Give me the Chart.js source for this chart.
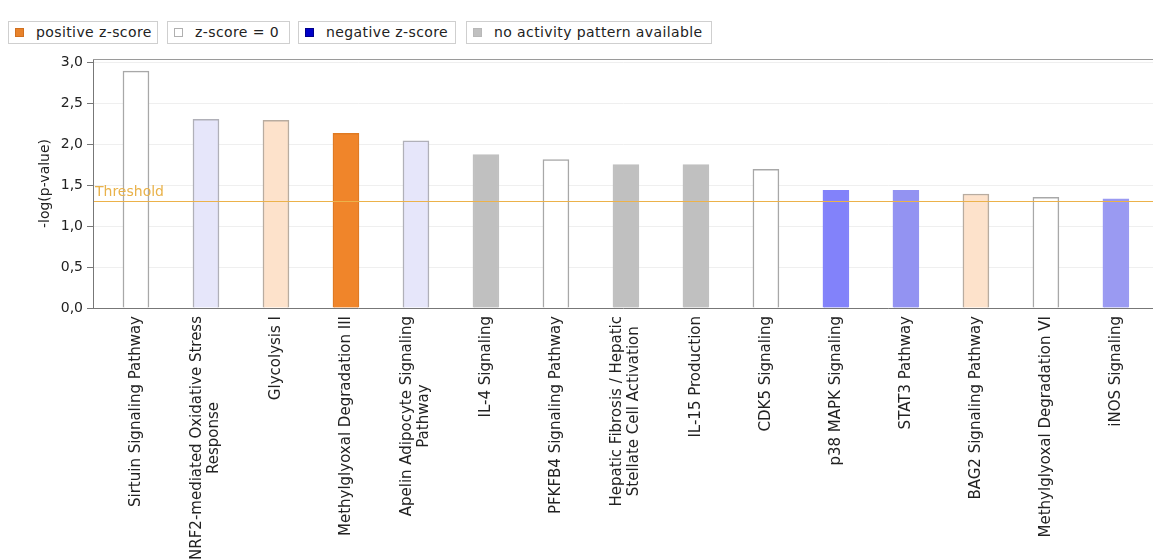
<!DOCTYPE html>
<html>
<head>
<meta charset="utf-8">
<script src="https://cdn.jsdelivr.net/npm/chart.js@4.4.1/dist/chart.umd.min.js"></script>
<style>
  html, body { margin: 0; padding: 0; background: #fff; }
  #wrap { position: relative; width: 1153px; height: 560px; overflow: hidden; }
  #chart { position: absolute; left: 0; top: 0; }
  .lg { position: absolute; top: 21px; height: 23px; border: 1px solid #cfcfcf; box-sizing: border-box;
        font-family: "DejaVu Sans", sans-serif; font-size: 14px; letter-spacing: 0.4px; color: #222; line-height: 21px;
        padding-left: 27px; white-space: nowrap; background: #fff; }
  .lg i { position: absolute; left: 6px; top: 6px; width: 9px; height: 9px; box-sizing: border-box; }
</style>
</head>
<body>
<div id="wrap">
  <canvas id="chart" width="1153" height="560"></canvas>
  <div class="lg" style="left:8px;width:150px"><i style="background:#e8822a;border:1px solid #d07020"></i>positive z-score</div>
  <div class="lg" style="left:167px;width:123px"><i style="background:#fff;border:1px solid #b0b0b0"></i>z-score = 0</div>
  <div class="lg" style="left:298px;width:158px"><i style="background:#0000c8;border:1px solid #00008a"></i>negative z-score</div>
  <div class="lg" style="left:466px;width:246px"><i style="background:#c0c0c0;border:1px solid #b8b8b8"></i>no activity pattern available</div>
</div>
<script>
// Canonical pathways, ranked by significance
const categories = [
  "Sirtuin Signaling Pathway",
  ["NRF2-mediated Oxidative Stress", "Response"],
  "Glycolysis I",
  "Methylglyoxal Degradation III",
  ["Apelin Adipocyte Signaling", "Pathway"],
  "IL-4 Signaling",
  "PFKFB4 Signaling Pathway",
  ["Hepatic Fibrosis / Hepatic", "Stellate Cell Activation"],
  "IL-15 Production",
  "CDK5 Signaling",
  "p38 MAPK Signaling",
  "STAT3 Pathway",
  "BAG2 Signaling Pathway",
  "Methylglyoxal Degradation VI",
  "iNOS Signaling"
];
// -log(p-value) per pathway
const logP = [2.89, 2.30, 2.29, 2.13, 2.04, 1.87, 1.81, 1.75, 1.75, 1.69, 1.435, 1.435, 1.39, 1.35, 1.33];
// bar fill by z-score state
const fills = ["#ffffff", "#e6e6fa", "#fde2cb", "#f0852a", "#e6e6fa", "#c0c0c0", "#ffffff", "#c0c0c0",
               "#c0c0c0", "#ffffff", "#8282fa", "#9393f2", "#fde2cb", "#ffffff", "#9a9af2"];
const edges = ["#a8a8a8", "#b0b0b8", "#b8aca0", "#e07a22", "#b0b0b8", "#c0c0c0", "#a8a8a8", "#c0c0c0",
               "#c0c0c0", "#a8a8a8", "#8282fa", "#9393f2", "#b8aca0", "#a8a8a8", "#9a9af2"];
const yTicks = [0, 0.5, 1.0, 1.5, 2.0, 2.5, 3.0];
const threshold = 1.3;
const thresholdLabel = "Threshold";

const FONT = '"DejaVu Sans", sans-serif';

// frame line on top, threshold rule and rotated category names
const decorations = {
  id: 'decorations',
  beforeDatasetsDraw(chart) {
    const { ctx, chartArea } = chart;
    ctx.save();
    ctx.strokeStyle = '#9a9a9a';
    ctx.lineWidth = 1;
    ctx.beginPath();
    ctx.moveTo(chartArea.left, chartArea.top + 0.5);
    ctx.lineTo(chartArea.right, chartArea.top + 0.5);
    ctx.stroke();
    ctx.restore();
  },
  afterDraw(chart) {
    const { ctx, chartArea, scales } = chart;
    ctx.save();
    const ty = Math.round(scales.y.getPixelForValue(threshold));
    ctx.fillStyle = '#ecb24a';
    ctx.fillRect(chartArea.left + 1, ty, chartArea.right - chartArea.left - 1, 1);
    ctx.fillStyle = '#e9b24a';
    ctx.font = '14px ' + FONT;
    ctx.textAlign = 'left';
    ctx.textBaseline = 'alphabetic';
    ctx.fillText(thresholdLabel, chartArea.left + 2, ty - 5);

    const lineH = 17;
    ctx.font = '15px ' + FONT;
    ctx.fillStyle = '#222';
    ctx.textAlign = 'center';
    ctx.textBaseline = 'middle';
    categories.forEach((lab, i) => {
      const lines = Array.isArray(lab) ? lab : [lab];
      const x0 = scales.x.getPixelForValue(i);
      const maxW = Math.max(...lines.map(l => ctx.measureText(l).width));
      const yc = chartArea.bottom + 8 + maxW / 2;
      lines.forEach((l, j) => {
        const dx = (j - (lines.length - 1) / 2) * lineH;
        ctx.save();
        ctx.translate(x0 + dx, yc);
        ctx.rotate(-Math.PI / 2);
        ctx.fillText(l, 0, 0);
        ctx.restore();
      });
    });
    ctx.restore();
  }
};

new Chart(document.getElementById('chart'), {
  type: 'bar',
  data: {
    datasets: [{
      data: logP.map((v, i) => ({ x: i, y: v })),
      backgroundColor: fills,
      borderColor: edges,
      borderWidth: 1.5,
      borderSkipped: 'bottom',
      barThickness: 26
    }]
  },
  plugins: [decorations],
  options: {
    responsive: false,
    animation: false,
    events: [],
    layout: { padding: { top: 59, left: 0, right: 0, bottom: 0 } },
    plugins: { legend: { display: false }, tooltip: { enabled: false } },
    scales: {
      x: {
        type: 'linear',
        offset: false,
        min: -0.614,
        max: 14.53,
        ticks: { display: false },
        grid: { display: false, offset: false },
        border: { color: '#777', width: 1 },
        afterFit(scale) { scale.height = 252; }
      },
      y: {
        min: 0,
        max: 3.037,
        ticks: {
          includeBounds: false,
          stepSize: 0.5,
          padding: 4,
          color: '#222',
          font: { family: FONT, size: 14 },
          callback: (v) => yTicks.includes(v) ? v.toFixed(1).replace('.', ',') : ''
        },
        grid: { color: '#efefef', tickColor: '#777', tickLength: 6 },
        border: { color: '#777', width: 1 },
        title: {
          display: true,
          text: '-log(p-value)',
          color: '#222',
          font: { family: FONT, size: 14 },
          padding: { top: 37, bottom: 0 }
        },
        afterFit(scale) { scale.width = 93; }
      }
    }
  }
});
</script>
</body>
</html>
